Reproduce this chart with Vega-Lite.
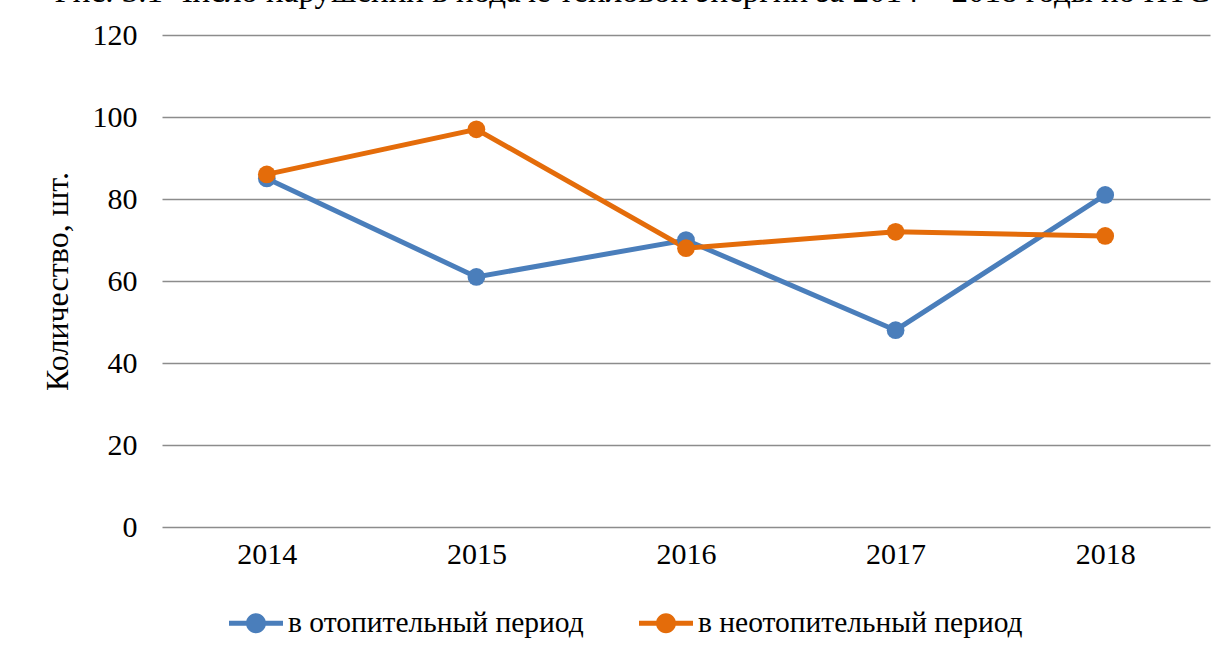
{
  "$schema": "https://vega.github.io/schema/vega-lite/v6.json",
  "width": 1048,
  "height": 492,
  "autosize": {"type": "none"},
  "padding": {"left": 162, "top": 35, "right": 11, "bottom": 130},
  "background": "white",
  "title": {
    "text": "Рис. 3.1 Число нарушений в подаче тепловой энергии за 2014 – 2018 годы по ИТС",
    "font": "'Liberation Serif', 'Times New Roman', serif",
    "fontSize": 33,
    "fontWeight": "normal",
    "color": "black",
    "anchor": "middle",
    "frame": "group",
    "offset": 0,
    "dy": 15,
    "dx": -54,
    "baseline": "alphabetic"
  },
  "data": {
    "values": [
      {"year": "2014", "series": "в отопительный период", "value": 85},
      {"year": "2015", "series": "в отопительный период", "value": 61},
      {"year": "2016", "series": "в отопительный период", "value": 70},
      {"year": "2017", "series": "в отопительный период", "value": 48},
      {"year": "2018", "series": "в отопительный период", "value": 81},
      {"year": "2014", "series": "в неотопительный период", "value": 86},
      {"year": "2015", "series": "в неотопительный период", "value": 97},
      {"year": "2016", "series": "в неотопительный период", "value": 68},
      {"year": "2017", "series": "в неотопительный период", "value": 72},
      {"year": "2018", "series": "в неотопительный период", "value": 71}
    ]
  },
  "encoding": {
    "x": {
      "field": "year",
      "type": "ordinal",
      "scale": {"type": "point", "padding": 0.5},
      "axis": {
        "title": null,
        "labelAngle": 0,
        "labelFont": "'Liberation Serif', 'Times New Roman', serif",
        "labelFontSize": 30,
        "labelColor": "black",
        "labelPadding": 12,
        "ticks": false,
        "domain": false,
        "grid": false
      }
    },
    "y": {
      "field": "value",
      "type": "quantitative",
      "scale": {"domain": [0, 120], "nice": false},
      "axis": {
        "title": "Количество, шт.",
        "titleFont": "'Liberation Serif', 'Times New Roman', serif",
        "titleFontSize": 32,
        "titleFontWeight": "normal",
        "titleColor": "black",
        "titlePadding": 18,
        "values": [0, 20, 40, 60, 80, 100, 120],
        "labelFont": "'Liberation Serif', 'Times New Roman', serif",
        "labelFontSize": 30,
        "labelColor": "black",
        "labelPadding": 25,
        "ticks": false,
        "domain": false,
        "grid": true,
        "gridColor": "#8c8c8c",
        "gridWidth": 1.5
      }
    },
    "color": {
      "field": "series",
      "type": "nominal",
      "sort": ["в отопительный период", "в неотопительный период"],
      "scale": {
        "domain": ["в отопительный период", "в неотопительный период"],
        "range": ["#4a7ebb", "#e46c0a"]
      },
      "legend": {
        "title": null,
        "orient": "none",
        "direction": "horizontal",
        "legendX": 67,
        "legendY": 561,
        "symbolType": "M -1 -0.093 L 1 -0.093 L 1 0.093 L -1 0.093 Z M -0.37 0 A 0.37 0.37 0 1 1 0.37 0 A 0.37 0.37 0 1 1 -0.37 0 Z",
        "symbolSize": 2916,
        "symbolStrokeWidth": 0,
        "labelFont": "'Liberation Serif', 'Times New Roman', serif",
        "labelFontSize": 29.5,
        "labelColor": "black",
        "labelLimit": 0,
        "labelOffset": 5,
        "columnPadding": 55
      }
    }
  },
  "layer": [
    {"mark": {"type": "line", "strokeWidth": 5}},
    {"mark": {"type": "point", "filled": true, "size": 314, "opacity": 1, "shape": "circle"}}
  ],
  "config": {"view": {"stroke": null}}
}
